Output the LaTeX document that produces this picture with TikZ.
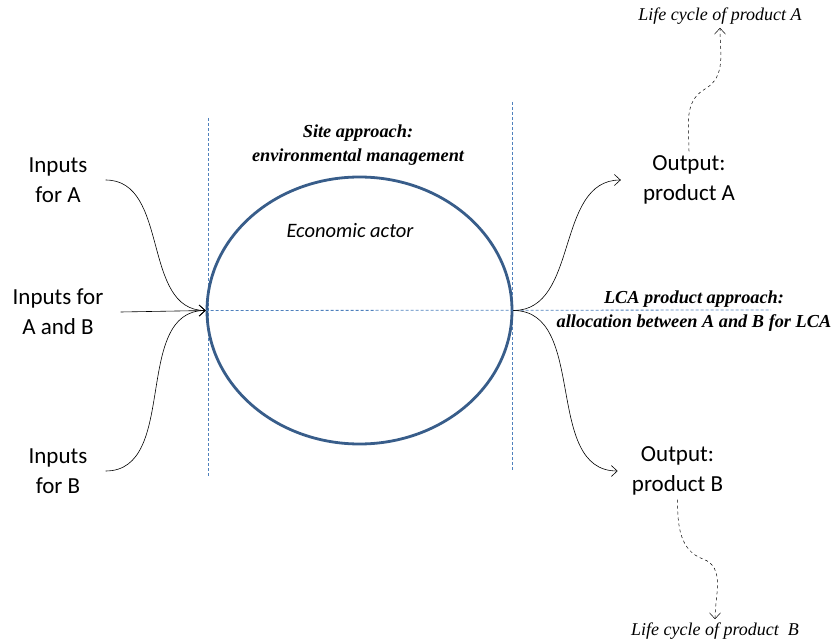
\documentclass[tikz,border=0pt]{standalone}
\usepackage{fontspec}
\setmainfont{Carlito}
\newfontfamily\serifit{Liberation Serif}
\definecolor{ActorBlue}{RGB}{56,93,138}
\definecolor{GuideBlue}{RGB}{79,129,189}
\usetikzlibrary{shapes.geometric,arrows.meta,positioning}
\tikzset{
  flowtxt/.style={align=center, inner xsep=18pt, inner ysep=4pt, font=\fontsize{23}{30}\selectfont},
  approach/.style={align=center, font=\serifit\bfseries\itshape\fontsize{18.3}{24}\selectfont},
  lifecycle/.style={font=\serifit\itshape\fontsize{18}{20}\selectfont},
  flow/.style={-{Straight Barb[length=6pt,width=11pt]}, line width=0.6pt},
  guide/.style={GuideBlue, line width=0.8pt, dash pattern=on 3pt off 2pt}
}

\begin{document}
\begin{tikzpicture}[x=1pt,y=-1pt]
  \useasboundingbox (0,0) rectangle (840,644);
  % site boundary and allocation line
  \draw[guide] (208,118) -- (208,476);
  \draw[guide] (512,102) -- (512,470);
  \node[ellipse, draw=ActorBlue, line width=2.8pt, minimum width=305pt, minimum height=267pt] (actor) at (359.5,310.5) {};
  \draw[guide] (actor.west) -- (771,310);
  \node[font=\itshape\fontsize{20.5}{24}\selectfont] (actorlbl) at (350,231) {Economic actor};
  \node[approach] (site) at (358,145) {Site approach:\\environmental management};
  \node[approach] (lca) at (694,311) {LCA product approach:\\allocation between A and B for LCA};

  % inputs
  \node[flowtxt] (inA) at (58,180) {Inputs\\for A};
  \node[flowtxt, inner xsep=17pt] (inAB) at (58,312) {Inputs for\\A and B};
  \node[flowtxt] (inB) at (58,471) {Inputs\\for B};
  \draw[flow] (inA.east) to[out=0,in=180] (actor.west);
  \draw[flow] (inAB.east) -- (actor.west);
  \draw[flow] (inB.east) to[out=0,in=180] (actor.west);

  % outputs
  \node[flowtxt, inner xsep=22pt] (outA) at (689,180) {Output:\\product A};
  \node[flowtxt, inner xsep=14pt] (outB) at (677.5,471) {Output:\\product B};
  \draw[flow] (actor.east) to[out=0,in=180] (outA.west);
  \draw[flow] (actor.east) to[out=0,in=180] (outB.west);

  % life cycles
  \node[lifecycle] (lifeA) at (720,16) {Life cycle of product A};
  \node[lifecycle] (lifeB) at (715,631) {Life cycle of product\ \ B};
  \draw[flow, dashed, line width=0.5pt] (outA.north) to[out=90,in=210] (705,89) to[out=30,in=-90] (lifeA.south);
  \draw[flow, dashed, line width=0.5pt] (outB.south) to[out=-90,in=160] (703,559) to[out=-20,in=90] (lifeB.north);
\end{tikzpicture}
\end{document}
